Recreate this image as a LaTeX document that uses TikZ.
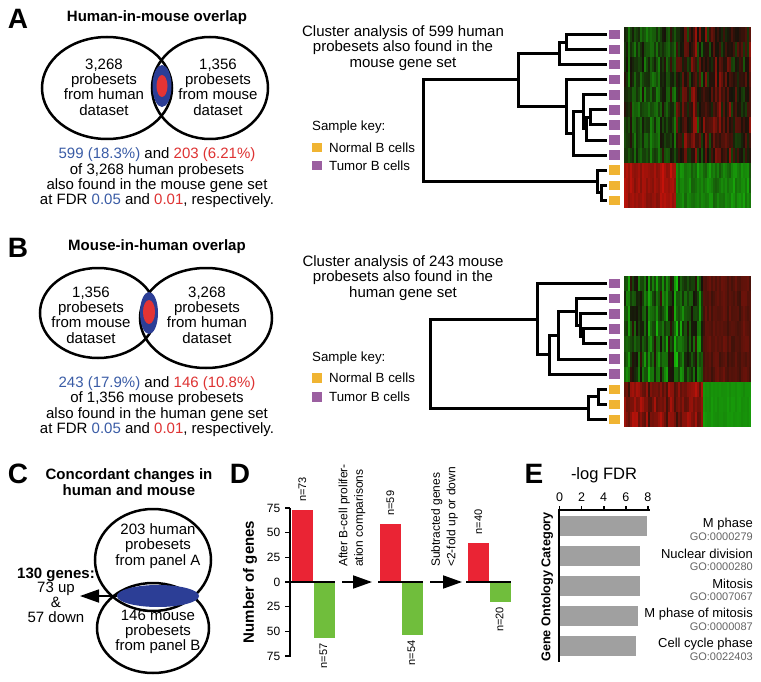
\documentclass[tikz,border=0pt]{standalone}
\usepackage{fontspec}
\setmainfont{Liberation Sans}
\usetikzlibrary{arrows.meta,shapes.geometric}
\definecolor{vblue}{RGB}{44,62,150}
\definecolor{vred}{RGB}{228,52,52}
\definecolor{fblue}{RGB}{58,92,166}
\definecolor{fred}{RGB}{222,50,50}
\definecolor{keyorange}{RGB}{240,180,50}
\definecolor{keypurple}{RGB}{155,95,160}
\definecolor{barred}{RGB}{234,36,52}
\definecolor{bargreen}{RGB}{112,190,60}
\definecolor{bargray}{RGB}{160,160,160}
\definecolor{gotext}{RGB}{100,100,100}
\newcommand\fsz[2]{\fontsize{#1}{#2}\selectfont}
% one stripe of a heat map, value -1 (green) .. 1 (red)
\newcommand\heatcell[3]{%
 \pgfmathsetmacro\hr{0.09+0.72*max(#3,0)}%
 \pgfmathsetmacro\hg{0.07+0.70*max(-(#3),0)}%
 \definecolor{heat}{rgb}{\hr,\hg,0.04}%
 \fill[heat] (#1,#2) rectangle ++(2.05,15.2);}
\begin{document}
\begin{tikzpicture}[x=1pt,y=-1pt,
 every node/.style={inner sep=0pt},
 lett/.style={font=\bfseries\fsz{28}{28}},
 ttl/.style={font=\bfseries\fsz{15}{15.5},align=center},
 body/.style={font=\fsz{15}{15.3},align=center},
 keytxt/.style={font=\fsz{13.3}{14},anchor=west},
 keysq/.style={minimum width=10pt,minimum height=9.5pt},
 leafsq/.style={minimum width=11pt,minimum height=9.5pt,outer sep=2pt},
 tree/.style={line width=3pt},
 venn/.style={line width=2.5pt},
 axis/.style={line width=1.6pt},
 bigarrow/.style={line width=1.8pt,-{Triangle[length=19pt,width=13pt]}},
 nlab/.style={rotate=90,font=\fsz{11}{11}}]
 \path[use as bounding box,fill=white] (0,0) rectangle (761,682);
 %%% <<< panel A
 \node[lett] (lA) at (18,19) {A};
 \node[ttl] (tA) at (157,18) {Human-in-mouse overlap};
 \draw[venn] (107,88) ellipse[x radius=65,y radius=51];
 \draw[venn] (210,88) ellipse[x radius=58,y radius=51];
 \fill[vblue] (162,86) ellipse[x radius=9.5,y radius=21];
 \fill[vred] (162,86) ellipse[x radius=5.5,y radius=11];
 \node[body] (vAl) at (104,87) {3,268\\probesets\\from human\\dataset};
 \node[body] (vAr) at (218,87) {1,356\\probesets\\from mouse\\dataset};
 \node[body] (cA) at (157,178) {\textcolor{fblue}{599 (18.3\%)} and \textcolor{fred}{203 (6.21\%)}\\
 of 3,268 human probesets\\also found in the mouse gene set\\
 at FDR \textcolor{fblue}{0.05} and \textcolor{fred}{0.01}, respectively.};
 \node[body] (clA) at (403,48) {Cluster analysis of 599 human\\probesets also found in the\\mouse gene set};
 \node[keytxt] (skA) at (312,127) {Sample key:};
 \node[keysq,fill=keyorange] (kAn) at (317,147.5) {};
 \node[keytxt] (kAnt) at (329,147.5) {Normal B cells};
 \node[keysq,fill=keypurple] (kAt) at (317,165.5) {};
 \node[keytxt] (kAtt) at (329,165.5) {Tumor B cells};
 % heat map A
 \pgfmathsetseed{11}
 \foreach \cc in {0,...,62}{
 \pgfmathsetmacro\cx{624+2.016*\cc}
 \pgfmathsetmacro\colrand{rand}
 \foreach \row in {0,...,11}{
 \pgfmathsetmacro\cy{27+15.08*\row}
 \pgfmathsetmacro\hv{ifthenelse(\row<9,
 ifthenelse(\cx<676,-0.25+0.22*\colrand+0.25*rand,0.15+0.3*\colrand+0.35*rand),
 ifthenelse(\cx<676,0.75+0.12*\colrand+0.1*rand,-0.6+0.15*\colrand+0.12*rand))}
 \pgfmathsetmacro\hv{max(-1,min(1,\hv))}
 \heatcell{\cx}{\cy}{\hv}
 }
 }
 \foreach \row in {0,...,11}{
 \pgfmathsetmacro\ly{34.5+15.08*\row}
 \ifnum\row<9 \def\kc{keypurple}\else\def\kc{keyorange}\fi
 \node[leafsq,fill=\kc] (la\row) at (614.5,\ly) {};
 }
 \coordinate (ha01) at (566,42.05);
 \coordinate (ha012) at (559,53.4);
 \coordinate (ha56) at (590,117.5);
 \coordinate (ha567) at (586,128.8);
 \coordinate (ha4567) at (583,111.85);
 \coordinate (ha48) at (573,133.5);
 \coordinate (ha38) at (566,106.65);
 \coordinate (haT) at (518,80);
 \coordinate (ha1011) at (601,193);
 \coordinate (haN) at (597,181.6);
 \coordinate (haR) at (423,130.8);
 \draw[tree] (la0) -| (ha01) |- (la1);
 \draw[tree] (ha01) -| (ha012) |- (la2);
 \draw[tree] (la5) -| (ha56) |- (la6);
 \draw[tree] (ha56) -| (ha567) |- (la7);
 \draw[tree] (la4) -| (ha4567) |- (ha567);
 \draw[tree] (ha4567) -| (ha48) |- (la8);
 \draw[tree] (la3) -| (ha38) |- (ha48);
 \draw[tree] (ha012) -| (haT) |- (ha38);
 \draw[tree] (la10) -| (ha1011) |- (la11);
 \draw[tree] (la9) -| (haN) |- (ha1011);
 \draw[tree] (haT) -| (haR) |- (haN);
 %%% <<< panel B
 \node[lett] (lB) at (18,248) {B};
 \node[ttl] (tB) at (157,247) {Mouse-in-human overlap};
 \draw[venn] (98,313) ellipse[x radius=58,y radius=45];
 \draw[venn] (206,318) ellipse[x radius=66,y radius=50];
 \fill[vblue] (149,313) ellipse[x radius=9,y radius=21];
 \fill[vred] (149,312) ellipse[x radius=6,y radius=12];
 \node[body] (vBl) at (91,315) {1,356\\probesets\\from mouse\\dataset};
 \node[body] (vBr) at (207,315) {3,268\\probesets\\from human\\dataset};
 \node[body] (cB) at (157,406.5) {\textcolor{fblue}{243 (17.9\%)} and \textcolor{fred}{146 (10.8\%)}\\
 of 1,356 mouse probesets\\also found in the human gene set\\
 at FDR \textcolor{fblue}{0.05} and \textcolor{fred}{0.01}, respectively.};
 \node[body] (clB) at (403,278) {Cluster analysis of 243 mouse\\probesets also found in the\\human gene set};
 \node[keytxt] (skB) at (312,358) {Sample key:};
 \node[keysq,fill=keyorange] (kBn) at (317,378) {};
 \node[keytxt] (kBnt) at (329,378) {Normal B cells};
 \node[keysq,fill=keypurple] (kBt) at (317,397) {};
 \node[keytxt] (kBtt) at (329,397) {Tumor B cells};
 % heat map B
 \foreach \cc in {0,...,62}{
 \pgfmathsetmacro\cx{624+2.016*\cc}
 \pgfmathsetmacro\colrand{rand}
 \foreach \row in {0,...,9}{
 \pgfmathsetmacro\cy{276+15.1*\row}
 \pgfmathsetmacro\hv{ifthenelse(\row<7,
 ifthenelse(\cx<702,-0.35+0.35*\colrand+0.3*rand,0.33+0.08*\colrand+0.08*rand),
 ifthenelse(\cx<702,0.55+0.2*\colrand+0.2*rand,-0.72+0.03*\colrand+0.03*rand))}
 \pgfmathsetmacro\hv{max(-1,min(1,\hv))}
 \heatcell{\cx}{\cy}{\hv}
 }
 }
 \foreach \row in {0,...,9}{
 \pgfmathsetmacro\ly{283.55+15.1*\row}
 \ifnum\row<7 \def\kc{keypurple}\else\def\kc{keyorange}\fi
 \node[leafsq,fill=\kc] (lb\row) at (614.5,\ly) {};
 }
 \coordinate (hb34) at (583,336.4);
 \coordinate (hb234) at (580,325.1);
 \coordinate (hb14) at (576,311.9);
 \coordinate (hb15) at (558,335.5);
 \coordinate (hb16) at (549,354.8);
 \coordinate (hbT) at (537,319.2);
 \coordinate (hb78) at (598,396.8);
 \coordinate (hbN) at (588,408.1);
 \coordinate (hbR) at (430,363.7);
 \draw[tree] (lb3) -| (hb34) |- (lb4);
 \draw[tree] (lb2) -| (hb234) |- (hb34);
 \draw[tree] (lb1) -| (hb14) |- (hb234);
 \draw[tree] (hb14) -| (hb15) |- (lb5);
 \draw[tree] (hb15) -| (hb16) |- (lb6);
 \draw[tree] (lb0) -| (hbT) |- (hb16);
 \draw[tree] (lb7) -| (hb78) |- (lb8);
 \draw[tree] (hb78) -| (hbN) |- (lb9);
 \draw[tree] (hbT) -| (hbR) |- (hbN);
 %%% <<< panel C
 \node[lett] (lC) at (18,474) {C};
 \node[ttl] (tC) at (129,482) {Concordant changes in\\human and mouse};
 \draw[venn] (153,560) ellipse[x radius=58,y radius=51];
 \draw[venn] (153,628) ellipse[x radius=56,y radius=45];
 \node[ellipse,fill=vblue,minimum width=82pt,minimum height=22pt] (ovC) at (158,596) {};
 \node[body] (vCt) at (158,546) {203 human\\probesets\\from panel A};
 \node[body] (vCb) at (158,632) {146 mouse\\probesets\\from panel B};
 \node[body,font=\fsz{15}{14.7}] (gC) at (56,595) {\textbf{130 genes:}\\73 up\\\&\\57 down};
 \coordinate (gCtip) at (80,596);
 \draw[bigarrow] (ovC) -- (gCtip);
 %%% <<< panel D
 \node[lett] (lD) at (240,474) {D};
 \node[rotate=90,font=\bfseries\fsz{15}{15}] (dyl) at (250,582) {Number of genes};
 \draw[axis] (290,508) -- (290,657);
 \foreach \v/\lab [count=\k] in {-75/75,-50/50,-25/25,0/0,25/25,50/50,75/75}
 \draw[axis] (290,{582+0.987*\v}) -- ++(-5,0)
 node[anchor=east,xshift=-4pt,font=\fsz{12}{12}] (dt\k) {\lab};
 \foreach \x/\up/\dn [count=\k] in {292/73/57,380/59/54,468/40/20}{
 \fill[barred] (\x,582) rectangle ++(20.5,{-0.987*\up});
 \fill[bargreen] (\x+22,582) rectangle ++(20.5,{0.987*\dn});
 \draw[axis] (\x-2,582) -- ++(45,0);
 \node[nlab,anchor=west] (nu\k) at (\x+10.25,{582-0.987*\up-8}) {n=\up};
 \node[nlab,anchor=east] (nd\k) at (\x+31.5,{582+0.987*\dn+5}) {n=\dn};
 }
 \coordinate (dA1) at (342,582);
 \coordinate (dA2) at (372,582);
 \coordinate (dB1) at (430,582);
 \coordinate (dB2) at (462,582);
 \draw[bigarrow] (dA1) -- (dA2);
 \draw[bigarrow] (dB1) -- (dB2);
 \node[rotate=90,anchor=west,align=left,font=\fsz{12}{15.5}] (dT1) at (352,567)
 {After B-cell prolifer-\\ation comparisons};
 \node[rotate=90,anchor=west,align=left,font=\fsz{12}{15.5}] (dT2) at (444.5,567)
 {Subtracted genes\\<2-fold up or down};
 %%% <<< panel E
 \node[lett] (lE) at (534,474) {E};
 \node[font=\fsz{16.5}{16.5}] (eT) at (604,475) {-log FDR};
 \node[rotate=90,font=\bfseries\fsz{12.7}{13}] (eyl) at (547,587) {Gene Ontology Category};
 \foreach \val/\name/\go [count=\k] in {7.9/M phase/0000279,7.2/Nuclear division/0000280,
 7.2/Mitosis/0007067,7.1/M phase of mitosis/0000087,6.9/Cell cycle phase/0022403}{
 \fill[bargray] (560,{486+30*\k}) rectangle ++({11.05*\val},20);
 \node[anchor=east,font=\fsz{13}{13}] (go\k) at (753,{494+30*\k}) {\name};
 \node[anchor=east,font=\fsz{11}{11},text=gotext] (gid\k) at (753,{507+30*\k}) {GO:\go};
 }
 \draw[axis] (559,510) -- (650,510);
 \draw[axis] (559,509.2) -- (559,662);
 \foreach \t in {0,2,4,6,8}
 \draw[axis] ({559.5+11.05*\t},510) -- ++(0,-4)
 node[anchor=south,yshift=3.5pt,font=\fsz{12.5}{12.5}] (et\t) {\t};
\end{tikzpicture}
\end{document}
